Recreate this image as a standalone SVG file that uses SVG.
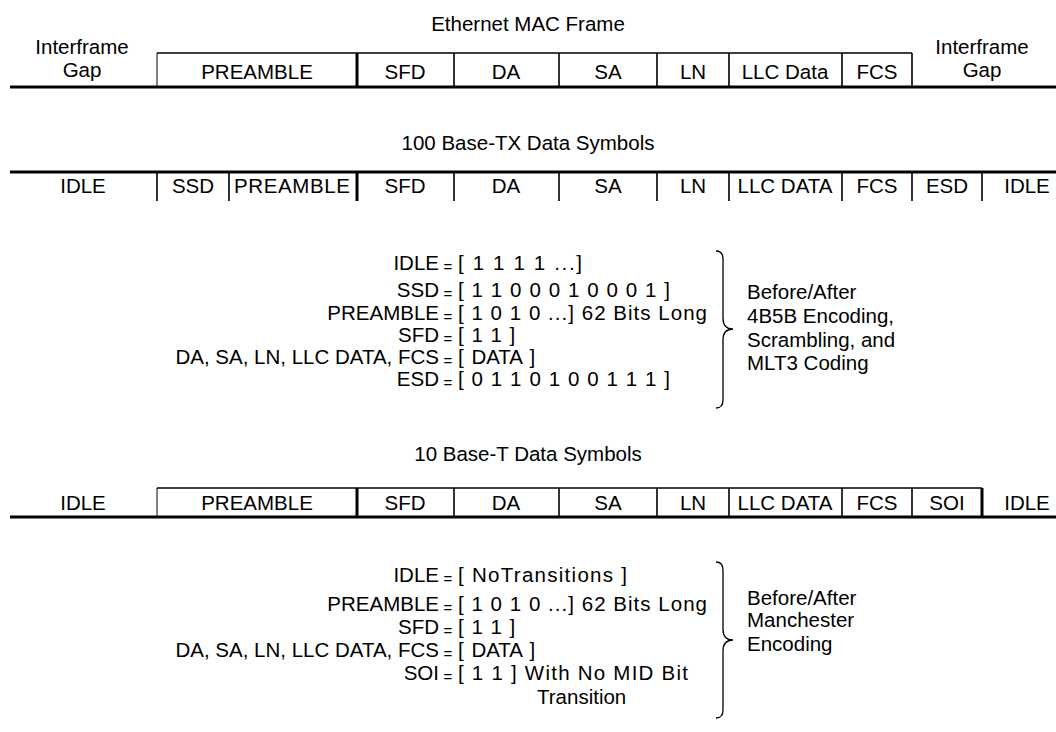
<svg xmlns="http://www.w3.org/2000/svg" width="1056" height="732" viewBox="0 0 1056 732">
<style>
text{font-family:"Liberation Sans",Arial,sans-serif;font-size:20.5px;fill:#000}
.c{text-anchor:middle}
.r{text-anchor:end}
.eq{font-size:15px;text-anchor:middle}
.ws{word-spacing:2px}
.thick{stroke:#000;stroke-width:3;fill:none}
.thin{stroke:#000;stroke-width:1.6;fill:none}
.hair{stroke:#000;stroke-width:1;fill:none}
.brace{stroke:#000;stroke-width:1.3;fill:none}
</style>
<rect width="1056" height="732" fill="#fff"/>

<g id="lines">
  <line class="thin" x1="157" y1="53" x2="912" y2="53"/>
  <line class="thick" x1="10" y1="87" x2="1056" y2="87"/>
  <line class="hair" x1="157" y1="53" x2="157" y2="87"/>
  <line class="thick" x1="357" y1="53" x2="357" y2="87"/>
  <line class="thin" x1="454" y1="53" x2="454" y2="87"/>
  <line class="thin" x1="559" y1="53" x2="559" y2="87"/>
  <line class="thin" x1="657" y1="53" x2="657" y2="87"/>
  <line class="thin" x1="729" y1="53" x2="729" y2="87"/>
  <line class="thin" x1="842" y1="53" x2="842" y2="87"/>
  <line class="thin" x1="912" y1="53" x2="912" y2="87"/>
  <line class="thick" x1="10" y1="172" x2="1056" y2="172"/>
  <line class="thin" x1="157" y1="172" x2="157" y2="201"/>
  <line class="thin" x1="229" y1="172" x2="229" y2="201"/>
  <line class="thick" x1="357" y1="172" x2="357" y2="201"/>
  <line class="thin" x1="454" y1="172" x2="454" y2="201"/>
  <line class="thin" x1="559" y1="172" x2="559" y2="201"/>
  <line class="thin" x1="657" y1="172" x2="657" y2="201"/>
  <line class="thin" x1="729" y1="172" x2="729" y2="201"/>
  <line class="thin" x1="842" y1="172" x2="842" y2="201"/>
  <line class="thin" x1="912" y1="172" x2="912" y2="201"/>
  <line class="thin" x1="982" y1="172" x2="982" y2="201"/>
  <line class="thin" x1="157" y1="488" x2="982" y2="488"/>
  <line class="thick" x1="10" y1="517" x2="1056" y2="517"/>
  <line class="hair" x1="157" y1="488" x2="157" y2="517"/>
  <line class="thick" x1="357" y1="488" x2="357" y2="517"/>
  <line class="thin" x1="454" y1="488" x2="454" y2="517"/>
  <line class="thin" x1="559" y1="488" x2="559" y2="517"/>
  <line class="thin" x1="657" y1="488" x2="657" y2="517"/>
  <line class="thin" x1="729" y1="488" x2="729" y2="517"/>
  <line class="thin" x1="842" y1="488" x2="842" y2="517"/>
  <line class="thin" x1="912" y1="488" x2="912" y2="517"/>
  <line class="thick" x1="982" y1="488" x2="982" y2="517"/>
  <path class="brace" d="M716 251 Q723 251 723 259 L723 318 Q723 329 733 329 Q723 329 723 340 L723 400 Q723 408 716 408"/>
  <path class="brace" d="M716 562 Q723 562 723 570 L723 629 Q723 640 733 640 Q723 640 723 651 L723 710 Q723 718 716 718"/>
</g>

<g id="titles">
  <text class="c" x="528" y="31">Ethernet MAC Frame</text>
  <text class="c" x="528" y="150">100 Base-TX Data Symbols</text>
  <text class="c" x="528" y="461">10 Base-T Data Symbols</text>
</g>

<g id="mac-frame">
  <text class="c" x="82" y="54">Interframe</text>
  <text class="c" x="82" y="77">Gap</text>
  <text class="c" x="257" y="79">PREAMBLE</text>
  <text class="c" x="405" y="79">SFD</text>
  <text class="c" x="506" y="79">DA</text>
  <text class="c" x="608" y="79">SA</text>
  <text class="c" x="693" y="79">LN</text>
  <text class="c" x="785" y="79">LLC Data</text>
  <text class="c" x="877" y="79">FCS</text>
  <text class="c" x="982" y="54">Interframe</text>
  <text class="c" x="982" y="77">Gap</text>
</g>

<g id="base-tx">
  <text class="c" x="83" y="193">IDLE</text>
  <text class="c" x="193" y="193">SSD</text>
  <text class="c" x="292" y="193" textLength="116" lengthAdjust="spacing">PREAMBLE</text>
  <text class="c" x="405" y="193">SFD</text>
  <text class="c" x="506" y="193">DA</text>
  <text class="c" x="608" y="193">SA</text>
  <text class="c" x="693" y="193">LN</text>
  <text class="c" x="785" y="193">LLC DATA</text>
  <text class="c" x="877" y="193">FCS</text>
  <text class="c" x="947" y="193">ESD</text>
  <text class="c" x="1027" y="193">IDLE</text>
</g>

<g id="base-tx-defs">
  <text class="r" x="439" y="270">IDLE</text><text class="eq" x="448" y="272">=</text><text x="458" y="270" textLength="124" lengthAdjust="spacing">[ 1 1 1 1 ...]</text>
  <text class="r" x="439" y="297">SSD</text><text class="eq" x="448" y="299">=</text><text x="458" y="297" textLength="212" lengthAdjust="spacing">[ 1 1 0 0 0 1 0 0 0 1 ]</text>
  <text class="r" x="439" y="320">PREAMBLE</text><text class="eq" x="448" y="322">=</text><text x="458" y="320" textLength="249" lengthAdjust="spacing">[ 1 0 1 0 ...] 62 Bits Long</text>
  <text class="r" x="439" y="342">SFD</text><text class="eq" x="448" y="344">=</text><text class="ws" x="458" y="342">[ 1 1 ]</text>
  <text class="r" x="439" y="364">DA, SA, LN, LLC DATA, FCS</text><text class="eq" x="448" y="366">=</text><text class="ws" x="458" y="364">[ DATA ]</text>
  <text class="r" x="439" y="386">ESD</text><text class="eq" x="448" y="388">=</text><text x="458" y="386" textLength="212" lengthAdjust="spacing">[ 0 1 1 0 1 0 0 1 1 1 ]</text>
  <text x="747" y="299">Before/After</text>
  <text x="747" y="323">4B5B Encoding,</text>
  <text x="747" y="347">Scrambling, and</text>
  <text x="747" y="370">MLT3 Coding</text>
</g>

<g id="base-t">
  <text class="c" x="83" y="510">IDLE</text>
  <text class="c" x="257" y="510">PREAMBLE</text>
  <text class="c" x="405" y="510">SFD</text>
  <text class="c" x="506" y="510">DA</text>
  <text class="c" x="608" y="510">SA</text>
  <text class="c" x="693" y="510">LN</text>
  <text class="c" x="785" y="510">LLC DATA</text>
  <text class="c" x="877" y="510">FCS</text>
  <text class="c" x="947" y="510">SOI</text>
  <text class="c" x="1027" y="510">IDLE</text>
</g>

<g id="base-t-defs">
  <text class="r" x="439" y="582">IDLE</text><text class="eq" x="448" y="584">=</text><text x="458" y="582" textLength="169" lengthAdjust="spacing">[ NoTransitions ]</text>
  <text class="r" x="439" y="611">PREAMBLE</text><text class="eq" x="448" y="613">=</text><text x="458" y="611" textLength="249" lengthAdjust="spacing">[ 1 0 1 0 ...] 62 Bits Long</text>
  <text class="r" x="439" y="634">SFD</text><text class="eq" x="448" y="636">=</text><text class="ws" x="458" y="634">[ 1 1 ]</text>
  <text class="r" x="439" y="657">DA, SA, LN, LLC DATA, FCS</text><text class="eq" x="448" y="659">=</text><text class="ws" x="458" y="657">[ DATA ]</text>
  <text class="r" x="439" y="680">SOI</text><text class="eq" x="448" y="682">=</text><text x="458" y="680" textLength="230" lengthAdjust="spacing">[ 1 1 ] With No MID Bit</text>
  <text x="537" y="704">Transition</text>
  <text x="747" y="605">Before/After</text>
  <text x="747" y="627">Manchester</text>
  <text x="747" y="651">Encoding</text>
</g>
</svg>
